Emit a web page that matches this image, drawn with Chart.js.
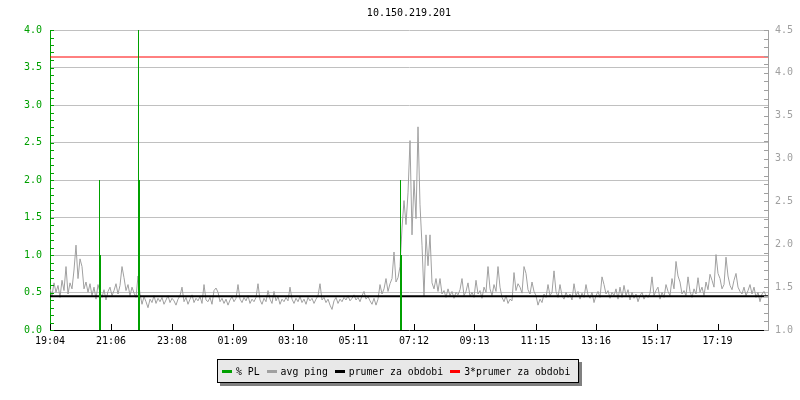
<!DOCTYPE html>
<html>
<head>
<meta charset="utf-8">
<script src="https://cdn.jsdelivr.net/npm/chart.js@4.4.0/dist/chart.umd.min.js"></script>
<style>
  body { margin: 0; background: #fff; }
  .wrap { position: relative; width: 800px; height: 400px; }
  .legend {
    position: absolute; left: 217px; top: 359px; height: 22px;
    padding: 0 4px 0 4px; background: #e8e8e8; border: 1px solid #000;
    box-shadow: 3px 3px 0 #808080; display: flex; align-items: center;
    font: 9.8px "DejaVu Sans Mono", monospace; color: #000; white-space: pre;
  }
  .legend .item { display: flex; align-items: center; margin-right: 7px; }
  .legend .item:last-child { margin-right: 4px; }
  .legend .sw { display: inline-block; width: 10px; height: 3px; margin-right: 4px; }
</style>
</head>
<body>
<div class="wrap">
  <canvas class="js-chart" width="800" height="400"></canvas>
  <div class="legend js-legend"></div>
</div>
<script>
const TITLE = '10.150.219.201';
const TIME_LABELS = ['19:04', '21:06', '23:08', '01:09', '03:10', '05:11', '07:12', '09:13', '11:15', '13:16', '15:17', '17:19'];
const TICK_MINUTES = [0, 122, 244, 365, 486, 607, 728, 849, 971, 1092, 1213, 1335];
const SPAN_MINUTES = 1436;

// avg ping in ms, one sample every 4 minutes from 19:04
const PING_STEP = 4;
const PING = [
  1.48, 1.40, 1.55, 1.44, 1.52, 1.38, 1.58, 1.46, 1.74, 1.42,
  1.55, 1.48, 1.70, 1.99, 1.60, 1.83, 1.74, 1.48, 1.56, 1.44,
  1.54, 1.40, 1.50, 1.36, 1.53, 1.44, 1.38, 1.47, 1.35, 1.45,
  1.50, 1.40, 1.46, 1.54, 1.42, 1.52, 1.74, 1.61, 1.46, 1.53,
  1.40, 1.50, 1.43, 1.38, 1.63, 1.42,
  // quiet night
  1.30, 1.39, 1.33, 1.26, 1.36, 1.32, 1.40, 1.31, 1.37, 1.33,
  1.38, 1.30, 1.35, 1.40, 1.32, 1.37, 1.34, 1.29, 1.36, 1.40,
  1.50, 1.33, 1.38, 1.30, 1.36, 1.41, 1.32, 1.37, 1.34, 1.39,
  1.31, 1.53, 1.35, 1.33, 1.38, 1.30, 1.46, 1.49, 1.44, 1.33,
  1.37, 1.31, 1.36, 1.29, 1.35, 1.39, 1.33, 1.37, 1.53, 1.36,
  1.32, 1.38, 1.34, 1.40, 1.31, 1.36, 1.33, 1.38, 1.54, 1.35,
  1.30, 1.37, 1.33, 1.46, 1.36, 1.31, 1.45, 1.34, 1.39, 1.30,
  1.36, 1.33, 1.38, 1.34, 1.50, 1.36, 1.31, 1.37, 1.33, 1.39,
  1.32, 1.36, 1.30, 1.38, 1.34, 1.37, 1.31, 1.36, 1.40, 1.54,
  1.35, 1.38, 1.32, 1.36, 1.29, 1.24, 1.34, 1.38, 1.31, 1.36,
  1.33, 1.38, 1.35, 1.40, 1.34, 1.37, 1.41, 1.35, 1.38, 1.33,
  1.40, 1.45, 1.36, 1.39, 1.34, 1.30, 1.37, 1.29, 1.36,
  // morning peak
  1.53, 1.42, 1.48, 1.60, 1.45, 1.54, 1.60, 1.91, 1.56, 1.61,
  1.74, 2.19, 2.51, 2.23, 2.60, 3.21, 2.11, 2.75, 2.30, 3.37,
  2.46, 1.99, 1.39, 2.11, 1.75, 2.11, 1.55, 1.48, 1.60, 1.45,
  1.60,
  // day
  1.42, 1.46, 1.38, 1.48, 1.40, 1.45, 1.37, 1.44, 1.41, 1.47,
  1.60, 1.40, 1.45, 1.55, 1.39, 1.44, 1.38, 1.58, 1.42, 1.46,
  1.37, 1.50, 1.44, 1.74, 1.48, 1.40, 1.53, 1.45, 1.74, 1.50,
  1.38, 1.33, 1.40, 1.31, 1.36, 1.34, 1.67, 1.46, 1.54, 1.50,
  1.43, 1.74, 1.66, 1.47, 1.42, 1.56, 1.45, 1.40, 1.29, 1.36,
  1.32, 1.42, 1.38, 1.53, 1.40, 1.44, 1.69, 1.45, 1.38, 1.53,
  1.40, 1.36, 1.44, 1.38, 1.42, 1.35, 1.54, 1.40, 1.45, 1.36,
  1.43, 1.38, 1.53, 1.41, 1.37, 1.44, 1.32, 1.40, 1.45, 1.38,
  1.62, 1.53, 1.42, 1.46, 1.37, 1.44, 1.40, 1.48, 1.36, 1.50,
  1.38, 1.52, 1.40, 1.47, 1.35, 1.44, 1.37, 1.42, 1.33, 1.40,
  1.44, 1.36, 1.41, 1.38, 1.43, 1.62, 1.40, 1.46, 1.50, 1.36,
  1.44, 1.38, 1.53, 1.45, 1.40, 1.60, 1.48, 1.80, 1.63, 1.56,
  1.42, 1.46, 1.40, 1.62, 1.45, 1.38, 1.48, 1.42, 1.61, 1.44,
  1.50, 1.40, 1.56, 1.47, 1.65, 1.58, 1.50, 1.88, 1.66, 1.60,
  1.48, 1.53, 1.85, 1.63, 1.52, 1.47, 1.58, 1.66, 1.50, 1.45,
  1.42, 1.50, 1.40, 1.46, 1.53, 1.42, 1.50, 1.38, 1.44, 1.33,
  1.42, 1.45, 1.40
];

// packet loss in %, minutes from 19:04
const PL_MINUTES = [0, 96, 98, 100, 102, 174, 176, 178, 180, 698, 700, 702, 704, 1436];
const PL_VALUES = [0, 0, 2, 1, 0, 0, 4, 2, 0, 0, 2, 1, 0, 0];

const PING_MEAN = 1.395;

const SERIES_NAMES = ['% PL', 'avg ping', 'prumer za obdobi', '3*prumer za obdobi'];
const COLORS = ['#00a000', '#a0a0a0', '#000000', '#ff0000'];

const FONT = '"DejaVu Sans Mono", monospace';
Chart.defaults.font.family = FONT;
Chart.defaults.font.size = 10;
Chart.defaults.color = '#000';

const ctx = document.querySelector('.js-chart').getContext('2d');

// small axis ticks pointing into the plot
const tickMarks = {
  id: 'tickMarks',
  afterDatasetsDraw(chart) {
    const { ctx, chartArea: a, scales } = chart;
    ctx.save();
    ctx.lineWidth = 1;
    const seg = (x1, y1, x2, y2, color) => {
      ctx.strokeStyle = color;
      ctx.beginPath();
      ctx.moveTo(x1, y1);
      ctx.lineTo(x2, y2);
      ctx.stroke();
    };
    for (let v = 0; v <= 40; v++) {
      const y = Math.round(scales.y.getPixelForValue(v / 10)) + 0.5;
      seg(a.left, y, a.left + 4, y, COLORS[0]);
    }
    for (let v = 10; v <= 45; v++) {
      const y = Math.round(scales.y1.getPixelForValue(v / 10)) + 0.5;
      seg(a.right - 4, y, a.right, y, COLORS[1]);
    }
    TICK_MINUTES.forEach(m => {
      const x = Math.round(scales.x.getPixelForValue(m)) + 0.5;
      seg(x, a.bottom, x, a.bottom - 6, '#000');
    });
    ctx.restore();
  }
};

function buildLegend() {
  const el = document.querySelector('.js-legend');
  el.innerHTML = SERIES_NAMES.map((name, i) =>
    `<span class="item"><span class="sw" style="background:${COLORS[i]}"></span>${name}</span>`
  ).join('');
}

function drawChart() {
  new Chart(ctx, {
    type: 'line',
    data: {
      datasets: [{
        label: SERIES_NAMES[0],
        data: PL_MINUTES.map((m, i) => ({ x: m, y: PL_VALUES[i] })),
        yAxisID: 'y',
        stepped: 'before',
        borderWidth: 0,
        borderColor: COLORS[0],
        backgroundColor: COLORS[0],
        fill: 'origin',
        pointRadius: 0,
        order: 0,
      }, {
        label: SERIES_NAMES[1],
        data: PING.map((v, i) => ({ x: i * PING_STEP, y: v })),
        yAxisID: 'y1',
        borderColor: COLORS[1],
        borderWidth: 1,
        pointRadius: 0,
        order: 3,
      }, {
        label: SERIES_NAMES[2],
        data: [{ x: 0, y: PING_MEAN }, { x: SPAN_MINUTES, y: PING_MEAN }],
        yAxisID: 'y1',
        borderColor: COLORS[2],
        borderWidth: 2,
        pointRadius: 0,
        order: 1,
      }, {
        label: SERIES_NAMES[3],
        data: [{ x: 0, y: 3 * PING_MEAN }, { x: SPAN_MINUTES, y: 3 * PING_MEAN }],
        yAxisID: 'y1',
        borderColor: COLORS[3],
        borderWidth: 1,
        pointRadius: 0,
        order: 1,
      }]
    },
    options: {
      responsive: false,
      animation: false,
      layout: { padding: { bottom: 50 } },
      plugins: {
        legend: { display: false },
        tooltip: { enabled: false },
        title: {
          display: true,
          text: TITLE,
          fullSize: false,
          color: '#000',
          font: { family: FONT, size: 10, weight: 'normal' },
          padding: { top: 7, bottom: 11 },
        },
      },
      scales: {
        x: {
          type: 'linear',
          min: 0,
          max: SPAN_MINUTES,
          afterBuildTicks(scale) {
            scale.ticks = TICK_MINUTES.map(value => ({ value }));
          },
          afterFit(scale) { scale.height = 20; },
          ticks: {
            autoSkip: false,
            maxRotation: 0,
            padding: 5,
            color: '#000',
            callback(value, index) { return TIME_LABELS[index]; }
          },
          grid: { drawOnChartArea: false, drawTicks: false },
          border: { color: '#000', width: 1 },
        },
        y: {
          position: 'left',
          min: 0,
          max: 4,
          afterFit(scale) { scale.width = 50; },
          ticks: {
            stepSize: 0.5,
            padding: 8,
            color: COLORS[0],
            callback(value) { return value.toFixed(1); }
          },
          grid: {
            drawTicks: false,
            color: c => (c.tick && c.tick.value === 0 ? 'rgba(0,0,0,0)' : '#c0c0c0'),
          },
          border: { color: COLORS[0], width: 1 },
        },
        y1: {
          position: 'right',
          min: 1,
          max: 4.5,
          afterFit(scale) { scale.width = 32; },
          ticks: {
            stepSize: 0.5,
            padding: 7,
            color: COLORS[1],
            callback(value) { return value.toFixed(1); }
          },
          grid: { drawOnChartArea: false, drawTicks: false },
          border: { color: COLORS[1], width: 1 },
        }
      }
    },
    plugins: [tickMarks],
  });
}

buildLegend();
drawChart();
</script>
</body>
</html>
